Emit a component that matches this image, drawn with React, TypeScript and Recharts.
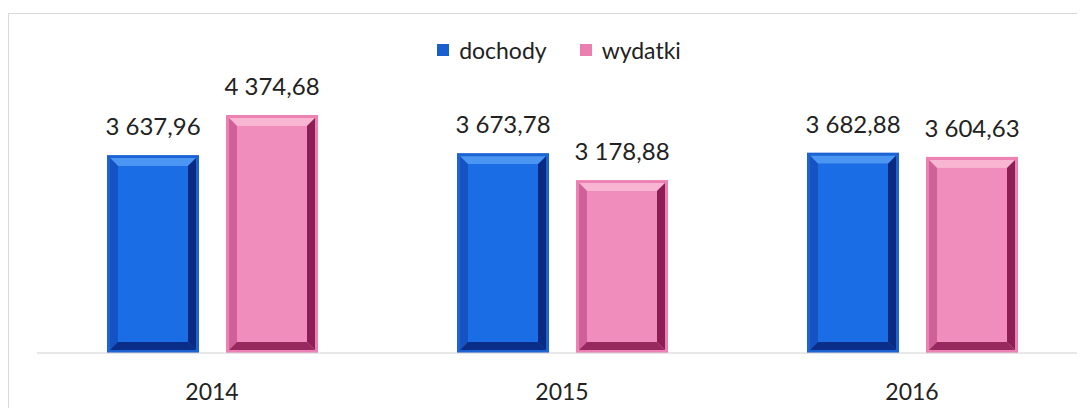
import { BarChart, Bar, XAxis, YAxis, LabelList, Legend } from 'recharts';

const YEARS = ['2014', '2015', '2016'];
const DOCHODY = [3637.96, 3673.78, 3682.88];
const WYDATKI = [4374.68, 3178.88, 3604.63];

const SERIES = [
  { key: 'dochody', name: 'dochody' },
  { key: 'wydatki', name: 'wydatki' },
];

const PALETTES: Record<string, { rim: string; face: string; top: string; left: string; right: string; bottom: string; swatch: string }> = {
  dochody: { rim: '#1d63d4', face: '#1a6de4', top: '#4b96f3', left: '#1553c2', right: '#0a2a82', bottom: '#0a2d88', swatch: '#1a5fd0' },
  wydatki: { rim: '#ec82b3', face: '#f18dbd', top: '#f8b6d3', left: '#d0609a', right: '#8c1e55', bottom: '#98295f', swatch: '#ea7fb0' },
};

const data = YEARS.map((year, i) => ({ year, dochody: DOCHODY[i], wydatki: WYDATKI[i] }));

// 3 637,96 style
function fmt(v: number) {
  const [int, dec] = v.toFixed(2).split('.');
  return `${int.replace(/\B(?=(\d{3})+(?!\d))/g, ' ')},${dec}`;
}

function BevelBar(props: any) {
  const { x, y, width, height, dataKey } = props;
  const p = PALETTES[dataKey];
  if (!p || height <= 0) return null;
  const o = 3;
  const b = 8;
  const ix = x + o, iy = y + o, iw = width - 2 * o, ih = height - 2 * o;
  const fx = ix + b, fy = iy + b, fw = iw - 2 * b, fh = ih - 2 * b;
  return (
    <g>
      <rect x={x} y={y} width={width} height={height} fill={p.rim} />
      <polygon points={`${ix},${iy} ${ix + iw},${iy} ${fx + fw},${fy} ${fx},${fy}`} fill={p.top} />
      <polygon points={`${ix},${iy} ${fx},${fy} ${fx},${fy + fh} ${ix},${iy + ih}`} fill={p.left} />
      <polygon points={`${ix + iw},${iy} ${ix + iw},${iy + ih} ${fx + fw},${fy + fh} ${fx + fw},${fy}`} fill={p.right} />
      <polygon points={`${ix},${iy + ih} ${ix + iw},${iy + ih} ${fx + fw},${fy + fh} ${fx},${fy + fh}`} fill={p.bottom} />
      <rect x={fx} y={fy} width={fw} height={fh} fill={p.face} />
    </g>
  );
}

function LegendContent() {
  return (
    <div style={{ display: 'flex', justifyContent: 'center', alignItems: 'center', fontSize: 23, color: '#222' }}>
      {SERIES.map((s, i) => (
        <div key={s.key} style={{ display: 'flex', alignItems: 'center', marginLeft: i ? 33 : 0 }}>
          <span style={{ width: 12, height: 12, background: PALETTES[s.key].swatch, marginRight: 10, display: 'inline-block' }} />
          <span>{s.name}</span>
        </div>
      ))}
    </div>
  );
}

export default function App() {
  return (
    <div style={{ width: 1077, height: 400, overflow: 'hidden', position: 'relative', fontFamily: 'Lato, sans-serif' }}>
      <div style={{ position: 'absolute', left: 0, top: 5, width: 1120, height: 420, borderLeft: '1px solid #d9d9d9', borderTop: '1px solid #d9d9d9' }}>
        <BarChart
          width={1100}
          height={400}
          data={data}
          margin={{ top: 67, right: 22, bottom: 1, left: 28 }}
          barSize={92}
          barGap={27}
        >
          <XAxis
            dataKey="year"
            axisLine={{ stroke: '#d0d0d0' }}
            tickLine={false}
            tickSize={0}
            tickMargin={31}
            height={60}
            tick={{ fontSize: 23, fill: '#222' }}
          />
          <YAxis hide domain={[0, 5000]} />
          <Legend
            verticalAlign="middle"
            align="center"
            content={<LegendContent />}
            wrapperStyle={{ top: 22, left: 0, width: 1100 }}
          />
          {SERIES.map((s) => (
            <Bar key={s.key} dataKey={s.key} name={s.name} fill={PALETTES[s.key].face} shape={<BevelBar dataKey={s.key} />} isAnimationActive={false}>
              <LabelList dataKey={s.key} position="top" offset={20} formatter={(v: any) => fmt(Number(v))} style={{ fontSize: 24, fill: '#222' }} />
            </Bar>
          ))}
        </BarChart>
      </div>
    </div>
  );
}
